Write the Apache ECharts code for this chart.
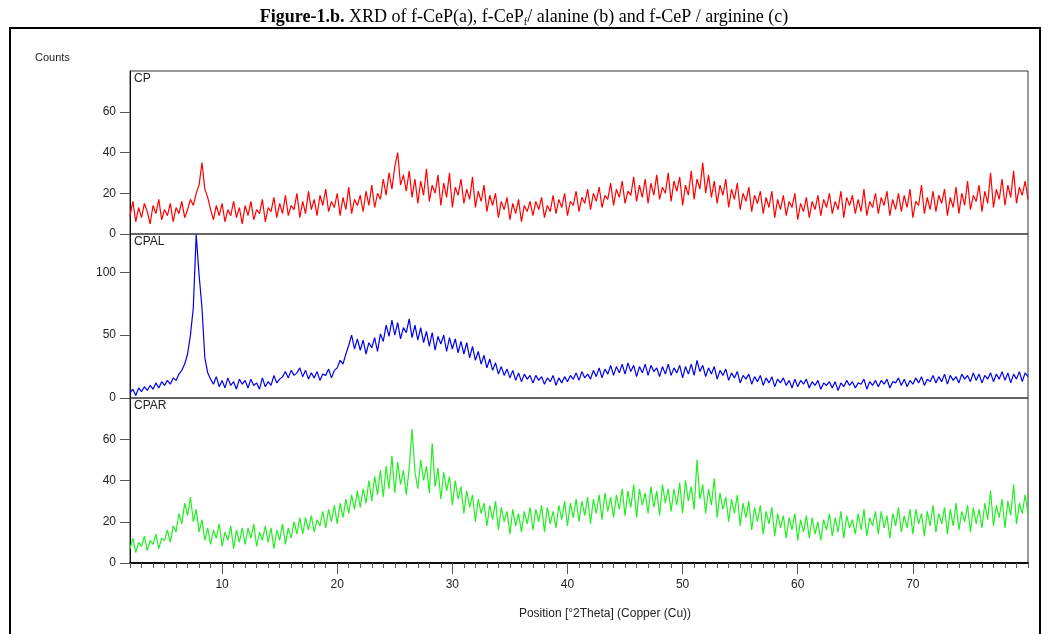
<!DOCTYPE html>
<html>
<head>
<meta charset="utf-8">
<script src="https://cdn.jsdelivr.net/npm/echarts@6/dist/echarts.min.js"></script>
<style>
  html, body { margin: 0; padding: 0; background: #fff; }
  #content { width: 1048px; height: 634px; }
</style>
</head>
<body>
<div id="content"></div>
<script>
// 2Theta scan: 2.00 .. 80.00 deg, one reading every 0.25 deg
var startAngle = 2
var stepAngle = 0.25

var xTickLabels = [10, 20, 30, 40, 50, 60, 70]
var yTicksCP = [0, 20, 40, 60]
var yTicksCPAL = [0, 50, 100]
var yTicksCPAR = [0, 20, 40, 60]

// f-CeP (red)
var countsCP = [
  9, 16, 6, 13, 8, 15, 11, 5, 14, 10, 17, 7, 12, 9, 15, 6, 13, 10, 16, 8,
  12, 17, 14, 20, 24, 35, 22, 18, 12, 7, 14, 9, 15, 6, 12, 9, 16, 8, 13, 5,
  14, 9, 16, 7, 12, 10, 17, 6, 13, 11, 18, 8, 15, 10, 19, 9, 14, 12, 20, 8,
  16, 10, 21, 12, 17, 9, 19, 14, 22, 11, 16, 13, 20, 9, 18, 12, 23, 10, 17, 14,
  19, 11, 21, 14, 24, 13, 20, 17, 27, 19, 30, 22, 33, 40, 24, 29, 21, 31, 18, 27,
  15, 26, 19, 32, 16, 24, 20, 29, 14, 25, 18, 30, 13, 23, 19, 27, 15, 22, 17, 28,
  13, 21, 16, 24, 11, 19, 14, 20, 8, 16, 12, 18, 7, 15, 10, 17, 6, 14, 11, 16,
  9, 16, 12, 18, 8, 14, 11, 19, 10, 17, 13, 20, 9, 16, 14, 21, 11, 18, 15, 22,
  12, 20, 16, 23, 13, 19, 17, 25, 14, 22, 18, 26, 15, 21, 19, 28, 16, 24, 18, 27,
  15, 25, 19, 29, 17, 23, 20, 30, 16, 26, 21, 28, 14, 24, 19, 31, 17, 27, 22, 35,
  20, 29, 18, 26, 15, 24, 19, 27, 13, 22, 17, 25, 12, 20, 16, 23, 11, 19, 15, 21,
  10, 18, 13, 21, 8, 17, 12, 19, 9, 16, 13, 20, 7, 15, 11, 18, 8, 16, 12, 19,
  9, 17, 13, 20, 10, 16, 12, 21, 8, 18, 14, 19, 10, 17, 11, 22, 9, 16, 13, 20,
  10, 18, 14, 21, 9, 17, 12, 20, 11, 19, 13, 22, 8, 16, 14, 24, 10, 18, 12, 21,
  11, 19, 15, 22, 9, 18, 13, 23, 10, 20, 14, 26, 12, 19, 16, 24, 11, 21, 15, 30,
  13, 22, 17, 27, 14, 24, 18, 31, 15, 23, 19, 26,
  17
]

// f-CeP / alanine (blue)
var countsCPAL = [
  4, 7, 2, 8, 5, 9, 6, 10, 7, 12, 8, 13, 10, 14, 11, 16, 14, 19, 22, 27,
  35, 50, 72, 130, 98, 72, 32, 20, 15, 11, 17, 9, 14, 8, 16, 10, 13, 7, 15, 11,
  14, 8, 15, 10, 12, 7, 16, 9, 13, 10, 18, 12, 15, 17, 21, 16, 22, 18, 20, 24,
  17, 22, 15, 20, 16, 21, 14, 19, 18, 23, 16, 22, 24, 30, 27, 35, 42, 50, 39, 47,
  38, 46, 35, 44, 40, 48, 37, 51, 45, 58, 49, 62, 50, 60, 47, 56, 52, 63, 48, 58,
  46, 56, 44, 53, 41, 52, 38, 49, 43, 50, 37, 48, 39, 47, 36, 45, 35, 44, 32, 41,
  30, 37, 27, 34, 24, 31, 22, 28, 19, 25, 18, 23, 16, 22, 14, 20, 13, 19, 15, 18,
  12, 18, 14, 17, 11, 16, 13, 18, 10, 16, 12, 17, 13, 18, 15, 20, 14, 21, 16, 19,
  15, 22, 17, 24, 16, 23, 19, 26, 18, 25, 20, 27, 19, 28, 21, 26, 17, 25, 20, 27,
  18, 26, 21, 24, 17, 25, 19, 27, 18, 24, 20, 26, 16, 25, 19, 27, 18, 30, 21, 26,
  17, 24, 19, 25, 15, 22, 18, 23, 14, 20, 16, 21, 12, 18, 15, 19, 11, 17, 13, 18,
  10, 16, 12, 17, 9, 15, 12, 16, 10, 14, 8, 15, 9, 14, 11, 15, 8, 13, 10, 14,
  7, 12, 10, 13, 8, 13, 6, 12, 9, 14, 10, 13, 8, 12, 11, 15, 7, 13, 10, 14,
  9, 14, 11, 15, 8, 13, 12, 16, 10, 15, 9, 14, 11, 16, 12, 17, 10, 15, 13, 18,
  12, 17, 13, 19, 11, 18, 14, 17, 12, 19, 15, 18, 13, 20, 14, 19, 12, 18, 15, 20,
  13, 19, 15, 21, 14, 20, 12, 19, 15, 21, 13, 20,
  17
]

// f-CeP / arginine (green)
var countsCPAR = [
  7, 12, 5, 10, 8, 13, 6, 11, 9, 14, 7, 12, 11, 16, 10, 18, 15, 24, 19, 29,
  23, 32, 20, 26, 15, 21, 11, 17, 9, 16, 12, 19, 8, 15, 11, 18, 7, 16, 10, 17,
  9, 17, 12, 19, 8, 15, 11, 18, 10, 17, 7, 16, 11, 19, 9, 17, 12, 20, 14, 22,
  14, 22, 16, 23, 15, 21, 18, 25, 17, 26, 20, 28, 19, 29, 22, 31, 24, 33, 26, 35,
  27, 36, 29, 40, 30, 42, 33, 45, 32, 47, 36, 52, 34, 49, 38, 45, 33, 46, 65, 44,
  36, 50, 40, 47, 34, 58, 37, 46, 31, 44, 35, 42, 28, 40, 31, 37, 24, 35, 27, 33,
  20, 31, 24, 29, 18, 28, 21, 30, 16, 27, 20, 25, 14, 26, 18, 24, 15, 25, 19, 27,
  16, 26, 20, 28, 15, 27, 19, 25, 17, 28, 21, 30, 18, 29, 22, 31, 20, 30, 23, 32,
  19, 31, 24, 33, 21, 34, 25, 32, 22, 33, 26, 36, 23, 35, 27, 38, 22, 36, 28, 34,
  24, 37, 27, 35, 23, 38, 29, 36, 25, 36, 28, 39, 24, 40, 30, 37, 26, 50, 31, 38,
  24, 36, 28, 41, 22, 34, 26, 32, 20, 31, 24, 33, 18, 29, 22, 30, 16, 27, 20, 28,
  14, 25, 19, 27, 13, 24, 17, 23, 12, 22, 16, 24, 11, 21, 15, 23, 12, 22, 14, 20,
  11, 21, 16, 24, 13, 22, 15, 25, 12, 23, 17, 21, 14, 24, 16, 26, 13, 22, 18, 25,
  14, 25, 17, 23, 12, 24, 18, 27, 15, 23, 17, 26, 14, 26, 19, 24, 13, 25, 18, 28,
  15, 24, 19, 27, 14, 26, 18, 29, 16, 25, 20, 28, 15, 27, 19, 26, 17, 29, 21, 35,
  18, 28, 22, 31, 17, 30, 23, 38, 19, 29, 24, 33,
  24
]

function toPoints (counts) {
  return counts.map((c, i) => [startAngle + i * stepAngle, c])
}

var chartDom = document.getElementById('content')
var myChart = echarts.init(chartDom)
var option

var font = 'Liberation Sans, Arial, sans-serif'
var panels = [
  { top: 71, height: 163, max: 80, ticks: yTicksCP },
  { top: 234, height: 164, max: 130.5, ticks: yTicksCPAL },
  { top: 398, height: 165, max: 80, ticks: yTicksCPAR }
]

option = {
  animation: false,
  backgroundColor: '#fff',
  title: {
    text: '{b|Figure-1.b.} XRD of f-CeP(a), f-CeP{sub|f}/ alanine (b) and f-CeP / arginine (c)',
    left: 'center',
    top: 2,
    textStyle: {
      fontFamily: 'Liberation Serif, Times New Roman, serif',
      fontSize: 18,
      fontWeight: 'normal',
      color: '#000',
      lineHeight: 20,
      rich: {
        b: { fontFamily: 'Liberation Serif, serif', fontSize: 18, fontWeight: 'bold', color: '#000' },
        sub: { fontFamily: 'Liberation Serif, serif', fontSize: 10, color: '#000', verticalAlign: 'bottom', padding: [8, 0, 0, 0] }
      }
    }
  },
  graphic: [
    { type: 'rect', shape: { x: 10, y: 28, width: 1030, height: 620 }, style: { fill: 'none', stroke: '#000', lineWidth: 2 }, silent: true },
    { type: 'text', left: 35, top: 52, style: { text: 'Counts', font: '11px ' + font, fill: '#222' } },
    { type: 'text', left: 134, top: 73, style: { text: 'CP', font: '12px ' + font, fill: '#222' } },
    { type: 'text', left: 134, top: 236, style: { text: 'CPAL', font: '12px ' + font, fill: '#222' } },
    { type: 'text', left: 134, top: 400, style: { text: 'CPAR', font: '12px ' + font, fill: '#222' } }
  ],
  grid: panels.map(p => ({
    left: 130,
    right: 20,
    top: p.top,
    height: p.height,
    show: true,
    borderColor: '#333',
    borderWidth: 1,
    backgroundColor: 'transparent'
  })),
  xAxis: [
    { gridIndex: 0, type: 'value', min: 2, max: 80, show: false },
    { gridIndex: 1, type: 'value', min: 2, max: 80, show: false },
    {
      gridIndex: 2,
      type: 'value',
      min: 2,
      max: 80,
      name: 'Position [°2Theta] (Copper (Cu))',
      nameLocation: 'middle',
      nameGap: 45,
      nameTextStyle: { fontFamily: font, fontSize: 12, color: '#222', padding: [0, 0, 0, 52] },
      axisLine: { show: true, lineStyle: { color: '#111', width: 2 } },
      axisTick: { show: true, customValues: xTickLabels, length: 11, lineStyle: { color: '#555' } },
      axisLabel: { customValues: xTickLabels, margin: 16, fontFamily: font, fontSize: 12, color: '#222' },
      splitLine: { show: false }
    },
    {
      // unit ticks along the bottom
      gridIndex: 2,
      type: 'value',
      position: 'bottom',
      min: 2,
      max: 80,
      interval: 1,
      axisLine: { show: false },
      axisTick: { show: true, length: 5, lineStyle: { color: '#555' } },
      axisLabel: { show: false },
      splitLine: { show: false }
    }
  ],
  yAxis: panels.map((p, i) => ({
    gridIndex: i,
    type: 'value',
    min: 0,
    max: p.max,
    axisLine: { show: true, lineStyle: { color: '#111' } },
    axisTick: { show: true, customValues: p.ticks, length: 10, lineStyle: { color: '#555' } },
    axisLabel: { customValues: p.ticks, margin: 14, fontFamily: font, fontSize: 12, color: '#222' },
    splitLine: { show: false }
  })),
  series: [
    {
      name: 'CP',
      type: 'line',
      xAxisIndex: 0,
      yAxisIndex: 0,
      showSymbol: false,
      data: toPoints(countsCP),
      lineStyle: { color: '#ff0000', width: 1.2 }
    },
    {
      name: 'CPAL',
      type: 'line',
      xAxisIndex: 1,
      yAxisIndex: 1,
      showSymbol: false,
      data: toPoints(countsCPAL),
      lineStyle: { color: '#0000ee', width: 1.2 }
    },
    {
      name: 'CPAR',
      type: 'line',
      xAxisIndex: 2,
      yAxisIndex: 2,
      showSymbol: false,
      data: toPoints(countsCPAR),
      lineStyle: { color: '#22ee22', width: 1.2 }
    }
  ]
}

option && myChart.setOption(option)
</script>
</body>
</html>
